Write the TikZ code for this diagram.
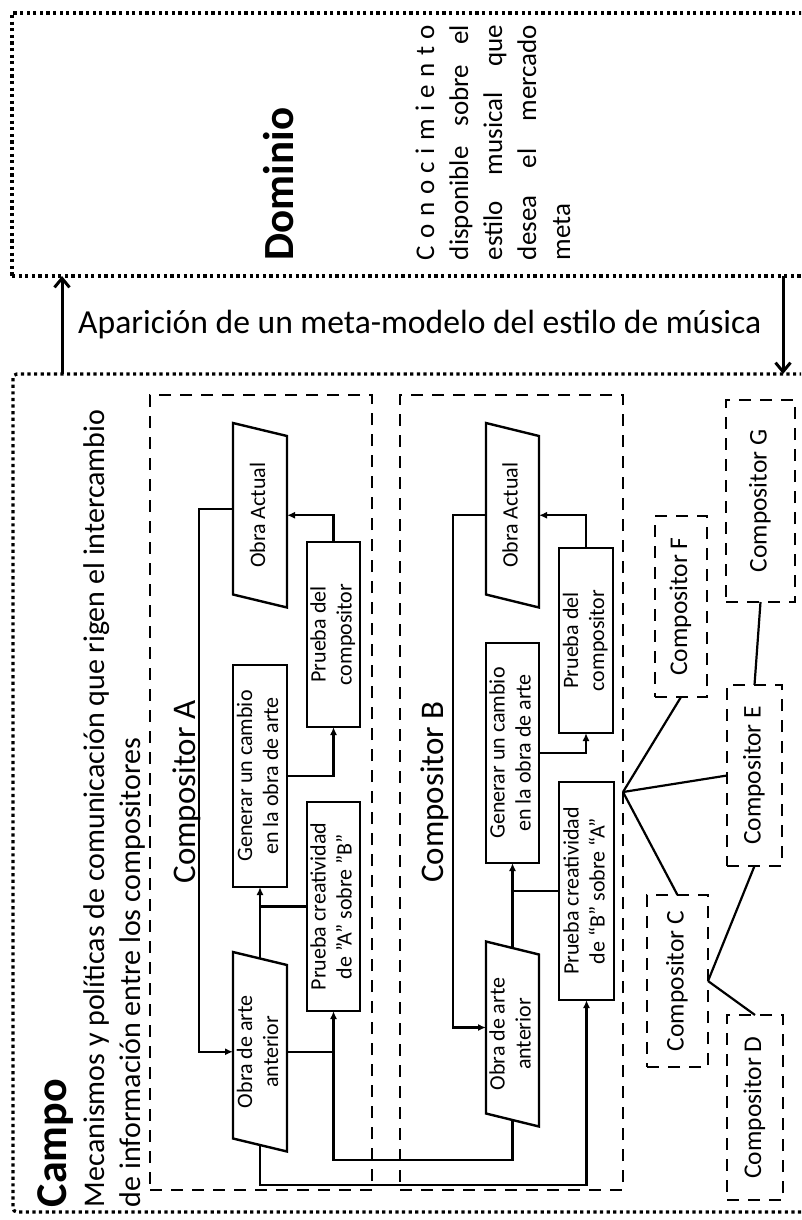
\documentclass[tikz,border=0pt]{standalone}
\usepackage{fontspec}
\setmainfont{Carlito}
\usepackage{graphicx}
\usetikzlibrary{arrows.meta,calc}
\newcommand\rt[1]{\rotatebox{90}{\begin{tabular}{@{}c@{}}#1\end{tabular}}}
\newcommand\pgdraw[1]{\draw[boxline] ([yshift=6.5pt]#1.north west) -- ([yshift=-6.5pt]#1.north east) -- ([yshift=-6.5pt]#1.south east) -- ([yshift=6.5pt]#1.south west) -- cycle;}
\tikzset{
 boxline/.style={line width=2.4pt, line join=miter},
 fbox/.style={draw, boxline, outer sep=0pt, inner sep=0pt, font=\fontsize{22pt}{26pt}\selectfont},
 pgram/.style={draw=none, outer sep=0pt, inner sep=0pt, font=\fontsize{22pt}{26pt}\selectfont},
 conn/.style={line width=2.2pt},
 arr/.style={conn, -{Latex[length=8pt,width=7pt]}},
 dashbox/.style={draw, line width=2.3pt, dash pattern=on 12pt off 9pt, outer sep=0pt, inner sep=0pt},
 compbox/.style={dashbox, font=\fontsize{25.5pt}{30pt}\selectfont},
 dotbox/.style={draw, line width=3.3pt, dash pattern=on 3.2pt off 3.4pt, outer sep=0pt, inner sep=0pt},
 bigarr/.style={line width=3pt, -{Straight Barb[length=9pt,width=15pt]}},
 rtext/.style={rotate=90, inner sep=0pt, outer sep=0pt},
 domtext/.style={rtext, anchor=base west, font=\fontsize{27pt}{33pt}\selectfont},
}
\begin{document}
\begin{tikzpicture}[x=1pt,y=-1pt]
\useasboundingbox (0,0) rectangle (801,1220);
\fill[white] (0,0) rectangle (801,1220);
\clip (0,0) rectangle (801,1220);

% outer regions
\node[dotbox, minimum width=808, minimum height=263] (dom) at (416,144.5) {};
\node[dotbox, rounded corners=4pt, minimum width=807, minimum height=838] (camp) at (416.5,793) {};

\coordinate (lx) at (62,0);
\coordinate (rx) at (783,0);
\draw[bigarr] (camp.north -| lx) -- (dom.south -| lx);
\draw[bigarr] (dom.south -| rx) -- (camp.north -| rx);

% Dominio texts
\node[rtext, anchor=base, font=\bfseries\fontsize{43pt}{50pt}\selectfont] (domT) at (293,184) {Dominio};
\node[domtext] (k1) at (434,260) {\makebox[235pt][s]{C\hfill o\hfill n\hfill o\hfill c\hfill i\hfill m\hfill i\hfill e\hfill n\hfill t\hfill o}};
\node[domtext] (k2) at (468,260) {\makebox[235pt][s]{disponible\hfill sobre\hfill el}};
\node[domtext] (k3) at (502,260) {\makebox[235pt][s]{estilo\hfill musical\hfill que}};
\node[domtext] (k4) at (536,260) {\makebox[235pt][s]{desea\hfill el\hfill mercado}};
\node[domtext] (k5) at (570,260) {meta};

% middle label
\node[anchor=base west, inner sep=0pt, font=\fontsize{33.6pt}{40pt}\selectfont] (apar) at (78,333) {Aparición de un meta-modelo del estilo de música};

% Campo texts
\node[rtext, anchor=base west, font=\bfseries\fontsize{44pt}{50pt}\selectfont] (campoT) at (66,1207) {Campo};
\node[rtext, anchor=base west, font=\fontsize{30pt}{36pt}\selectfont] (campoD1) at (104,1207) {Mecanismos y políticas de comunicación que rigen el intercambio};
\node[rtext, anchor=base west, font=\fontsize{30pt}{36pt}\selectfont] (campoD2) at (140,1207) {de información entre los compositores};

% composer group boxes
\node[dashbox, minimum width=222, minimum height=795] (dashA) at (261,792.5) {};
\node[dashbox, minimum width=223, minimum height=795] (dashB) at (511.5,792.5) {};
\node[rtext, anchor=base, font=\fontsize{33pt}{40pt}\selectfont] (labA) at (195,792) {Compositor A};
\node[rtext, anchor=base, font=\fontsize{33pt}{40pt}\selectfont] (labB) at (443,792) {Compositor B};

% Composer A
\node[pgram, minimum width=54, minimum height=171.5] (oactA) at (260,515.25) {\rt{Obra Actual}};
\pgdraw{oactA}
\node[fbox, minimum width=53, minimum height=185] (pcompA) at (333.5,634.5) {\rt{Prueba del\\compositor}};
\node[fbox, minimum width=54, minimum height=222] (genA) at (260,776) {\rt{Generar un cambio\\en la obra de arte}};
\node[fbox, minimum width=53, minimum height=209] (pcreA) at (333.5,906.5) {\rt{Prueba creatividad\\de "A" sobre "B"}};
\node[pgram, minimum width=54, minimum height=186.5] (oantA) at (260,1051.75) {\rt{Obra de arte\\anterior}};
\pgdraw{oantA}

% Composer B
\node[pgram, minimum width=53, minimum height=171.5] (oactB) at (512.5,515.25) {\rt{Obra Actual}};
\pgdraw{oactB}
\node[fbox, minimum width=54, minimum height=185] (pcompB) at (586,640.5) {\rt{Prueba del\\compositor}};
\node[fbox, minimum width=53, minimum height=220] (genB) at (512.5,753) {\rt{Generar un cambio\\en la obra de arte}};
\node[fbox, minimum width=55, minimum height=218] (pcreB) at (586.5,891) {\rt{Prueba creatividad\\de “B” sobre “A”}};
\node[pgram, minimum width=53, minimum height=172] (oantB) at (512.5,1034) {\rt{Obra de arte\\anterior}};
\pgdraw{oantB}

% connectors A
\coordinate (loopA) at (199,0);
\coordinate (oactAw) at ([yshift=6.5pt]oactA.west);
\draw[arr] (pcompA.north) |- (oactA.east);
\draw[arr] (oactAw) -- (oactAw -| loopA) |- (oantA.west);
\draw[arr] (oantA.north) -- (genA.south);
\draw[conn] (pcreA.west) -- (pcreA.west -| oantA.north);
\draw[arr] (genA.east) -| (pcompA.south);
\draw[conn] (oantA.east) -- (oantA.east -| pcreA.south);

% connectors B
\coordinate (loopB) at (453,0);
\coordinate (oantBw) at ([yshift=6.5pt]oantB.west);
\draw[arr] (pcompB.north) |- (oactB.east);
\draw[arr] (oactB.west) -- (oactB.west -| loopB) |- (oantBw);
\draw[arr] (oantB.north) -- (genB.south);
\draw[conn] (pcreB.west) -- (pcreB.west -| oantB.north);
\draw[arr] (genB.east) -| (pcompB.south);

% cross connections
\coordinate (jA) at (333.5,1160);
\coordinate (jB) at (586.5,1185);
\draw[arr] (oantB.south) |- (jA) -- (pcreA.south);
\draw[arr] (oantA.south) |- (jB) -- (pcreB.south);

% other composers
\node[compbox, minimum width=61, minimum height=172] (compC) at (677.5,981) {\rt{Compositor C}};
\node[compbox, minimum width=56, minimum height=185] (compD) at (755,1107.5) {\rt{Compositor D}};
\node[compbox, minimum width=55, minimum height=181] (compE) at (754.5,775.5) {\rt{Compositor E}};
\node[compbox, minimum width=52, minimum height=181] (compF) at (681,606.5) {\rt{Compositor F}};
\node[compbox, minimum width=69, minimum height=202] (compG) at (760.5,501) {\rt{Compositor G}};

\coordinate (hub) at (623,792);
\draw[conn] (hub) -- (compF.south);
\draw[conn] (hub) -- (compE.west);
\draw[conn] (hub) -- (compC.north);
\draw[conn] (compC.east) -- (compE.south);
\draw[conn] (compC.east) -- (compD.north);
\draw[conn] (compE.north) -- (compG.south);
\end{tikzpicture}
\end{document}
